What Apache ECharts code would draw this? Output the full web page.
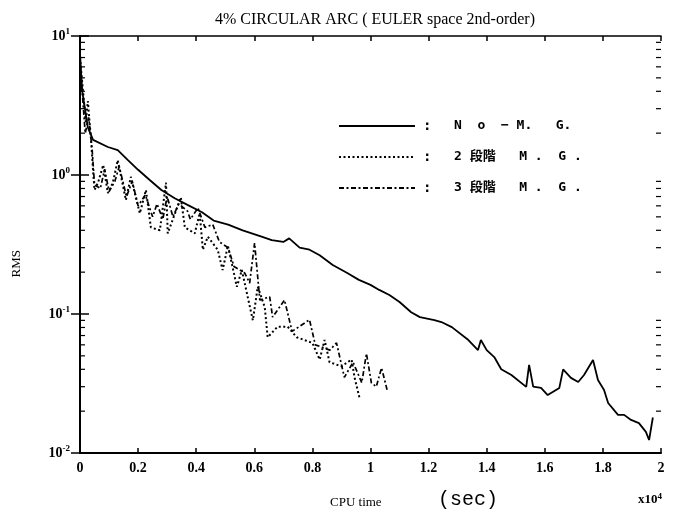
<!DOCTYPE html>
<html>
<head>
<meta charset="utf-8">
<script src="https://cdn.jsdelivr.net/npm/echarts@6/dist/echarts.min.js"></script>
<style>
html, body { margin: 0; padding: 0; background: #fff; }
#chart { width: 684px; height: 521px; }
</style>
</head>
<body>
<div id="chart"></div>
<script>
// CPU time (x10^4 sec) / RMS pairs
var noMG = [
	[0, 7.5], [0.007, 4.1], [0.027, 2.2], [0.045, 1.79], [0.096, 1.59], [0.13, 1.51],
	[0.165, 1.28], [0.2, 1.09], [0.24, 0.92], [0.28, 0.78], [0.326, 0.68], [0.37, 0.61],
	[0.42, 0.54], [0.46, 0.47], [0.51, 0.44], [0.56, 0.40], [0.625, 0.36], [0.66, 0.34],
	[0.70, 0.33], [0.72, 0.35], [0.756, 0.30], [0.79, 0.29], [0.825, 0.265], [0.87, 0.225],
	[0.92, 0.197], [0.96, 0.176], [1.0, 0.162], [1.03, 0.149], [1.065, 0.137], [1.10, 0.122],
	[1.14, 0.103], [1.17, 0.095], [1.22, 0.0905], [1.244, 0.0875], [1.28, 0.0805], [1.337, 0.065],
	[1.37, 0.055], [1.38, 0.065], [1.40, 0.055], [1.426, 0.049], [1.45, 0.040], [1.485, 0.0364],
	[1.536, 0.0299], [1.546, 0.043], [1.56, 0.030], [1.587, 0.0294], [1.61, 0.0261], [1.65, 0.0294],
	[1.663, 0.040], [1.69, 0.0347], [1.715, 0.0324], [1.735, 0.0364], [1.766, 0.0467], [1.783, 0.0335],
	[1.804, 0.0284], [1.818, 0.0229], [1.852, 0.0188], [1.873, 0.0188], [1.897, 0.0173], [1.924, 0.0164],
	[1.948, 0.0142], [1.959, 0.0124], [1.972, 0.018]
];
var mg2 = [
	[0, 7], [0.02, 2.4], [0.027, 3.4], [0.038, 1.8], [0.046, 1.0], [0.05, 0.78], [0.062, 0.88],
	[0.08, 1.18], [0.096, 0.74], [0.113, 0.88], [0.13, 1.28], [0.158, 0.66], [0.175, 0.97],
	[0.206, 0.53], [0.227, 0.78], [0.244, 0.42], [0.275, 0.40], [0.296, 0.88], [0.302, 0.38],
	[0.347, 0.69], [0.361, 0.42], [0.395, 0.38], [0.412, 0.53], [0.423, 0.29], [0.44, 0.36],
	[0.474, 0.29], [0.491, 0.207], [0.509, 0.31], [0.54, 0.157], [0.557, 0.207], [0.595, 0.09],
	[0.612, 0.157], [0.636, 0.112], [0.646, 0.068], [0.68, 0.081], [0.715, 0.081], [0.746, 0.068],
	[0.80, 0.062], [0.825, 0.047], [0.842, 0.065], [0.859, 0.045], [0.90, 0.042], [0.935, 0.047],
	[0.945, 0.035], [0.962, 0.025]
];
var mg3 = [
	[0, 6.5], [0.018, 2.0], [0.03, 2.6], [0.042, 1.5], [0.05, 0.85], [0.07, 0.8], [0.085, 1.1],
	[0.1, 0.76], [0.12, 0.9], [0.135, 1.15], [0.16, 0.7], [0.18, 0.9], [0.2, 0.6], [0.225, 0.72],
	[0.25, 0.5], [0.265, 0.62], [0.285, 0.48], [0.3, 0.7], [0.32, 0.5], [0.34, 0.62], [0.37, 0.55],
	[0.38, 0.48], [0.406, 0.58], [0.43, 0.42], [0.457, 0.44], [0.48, 0.33], [0.51, 0.30], [0.53, 0.22],
	[0.567, 0.197], [0.584, 0.167], [0.601, 0.324], [0.619, 0.126], [0.653, 0.133], [0.663, 0.095],
	[0.704, 0.126], [0.73, 0.075], [0.79, 0.091], [0.81, 0.06], [0.86, 0.055], [0.883, 0.062],
	[0.91, 0.035], [0.94, 0.045], [0.97, 0.032], [0.986, 0.052], [1.003, 0.032], [1.02, 0.030],
	[1.038, 0.041], [1.058, 0.028]
];
var seriesNames = ['N  o  − M.   G.', '2 段階   M .  G .', '3 段階   M .  G .'];
var minorTickMul = [2, 3, 4, 5, 6, 7, 8, 9];
var decades = [0.01, 0.1, 1];

var serif = '"Liberation Serif", "DejaVu Serif", serif';
var legendFont = '"DejaVu Sans Mono", "Noto Sans CJK JP", monospace';
var minorTicks = [];
decades.forEach(function(d) {
	minorTickMul.forEach(function(m) { minorTicks.push([0, d * m]); });
});

var chart = echarts.init(document.getElementById('chart'));

var lineBase = { type: 'line', showSymbol: false, symbol: 'none', animation: false, z: 3 };

chart.setOption({
	backgroundColor: '#fff',
	animation: false,
	title: {
		text: '4% CIRCULAR ARC ( EULER space 2nd-order)',
		left: 370, top: 7, textAlign: 'center',
		textStyle: { fontFamily: serif, fontSize: 16, fontWeight: 'normal', color: '#000' }
	},
	grid: { left: 80, right: 23, top: 36, bottom: 68 },
	legend: {
		orient: 'vertical', left: 333, top: 114,
		itemWidth: 76, itemHeight: 14, itemGap: 17,
		data: seriesNames,
		itemStyle: { opacity: 0 },
		formatter: function(name) { return '{c|:}{t|' + name + '}'; },
		textStyle: {
			color: '#000',
			rich: {
				c: { width: 31, padding: [0, 0, 0, 3], fontWeight: 'bold', fontSize: 14, fontFamily: legendFont },
				t: { fontWeight: 'bold', fontSize: 13, fontFamily: legendFont }
			}
		}
	},
	xAxis: [{
		type: 'value', min: 0, max: 2, interval: 0.2,
		axisLine: { lineStyle: { color: '#000', width: 2 } },
		axisTick: { inside: true, length: 5, lineStyle: { color: '#000', width: 1.5 } },
		axisLabel: { color: '#000', fontFamily: serif, fontWeight: 'bold', fontSize: 14, margin: 8 },
		splitLine: { show: false }
	}, {
		type: 'value', min: 0, max: 2, interval: 0.2, position: 'top',
		axisLine: { lineStyle: { color: '#000', width: 1.5 } },
		axisTick: { inside: true, length: 5, lineStyle: { color: '#000', width: 1.5 } },
		axisLabel: { show: false },
		splitLine: { show: false }
	}],
	yAxis: [{
		type: 'log', min: 0.01, max: 10, logBase: 10,
		axisLine: { lineStyle: { color: '#000', width: 2 } },
		axisTick: { inside: true, length: 9, lineStyle: { color: '#000', width: 1.5 } },
		axisLabel: {
			color: '#000', margin: 10,
			formatter: function(v) {
				var e = Math.round(Math.log(v) / Math.LN10);
				return '{b|10}{s|' + (e < 0 ? '-' + (-e) : e) + '}';
			},
			rich: {
				b: { fontFamily: serif, fontSize: 14, fontWeight: 'bold', color: '#000' },
				s: { fontFamily: serif, fontSize: 9, fontWeight: 'bold', color: '#000', verticalAlign: 'top', padding: [0, 0, 8, 0] }
			}
		},
		splitLine: { show: false }
	}, {
		type: 'log', min: 0.01, max: 10, logBase: 10, position: 'right',
		axisLine: { lineStyle: { color: '#000', width: 1.5 } },
		axisTick: { inside: true, length: 9, lineStyle: { color: '#000', width: 1.5 } },
		axisLabel: { show: false },
		splitLine: { show: false }
	}],
	series: [
		Object.assign({}, lineBase, {
			name: seriesNames[0], data: noMG,
			lineStyle: { color: '#000', width: 1.8, type: 'solid' }, itemStyle: { color: '#000' }
		}),
		Object.assign({}, lineBase, {
			name: seriesNames[1], data: mg2,
			lineStyle: { color: '#000', width: 2, type: [2, 2.5] }, itemStyle: { color: '#000' }
		}),
		Object.assign({}, lineBase, {
			name: seriesNames[2], data: mg3,
			lineStyle: { color: '#000', width: 1.7, type: [5, 2.5, 2, 2.5] }, itemStyle: { color: '#000' }
		}),
		{
			// minor ticks on both log axes
			type: 'custom', silent: true, clip: false, z: 5,
			data: minorTicks,
			renderItem: function(params, api) {
				var l = api.coord([0, api.value(1)]);
				var r = api.coord([2, api.value(1)]);
				return {
					type: 'group',
					children: [
						{ type: 'line', shape: { x1: l[0], y1: l[1], x2: l[0] + 5, y2: l[1] }, style: { stroke: '#000', lineWidth: 1.2 } },
						{ type: 'line', shape: { x1: r[0], y1: r[1], x2: r[0] - 5, y2: r[1] }, style: { stroke: '#000', lineWidth: 1.2 } }
					]
				};
			}
		}
	],
	graphic: [
		{ type: 'text', left: 10, top: 250, rotation: Math.PI / 2,
		  style: { text: 'RMS', font: '13px ' + serif, fill: '#000' } },
		{ type: 'text', left: 330, top: 496,
		  style: { text: 'CPU time', font: '13px ' + serif, fill: '#000' } },
		{ type: 'text', left: 438, top: 490,
		  style: { text: '(sec)', font: '20px "Liberation Mono", "DejaVu Sans Mono", monospace', fill: '#000' } },
		{ type: 'text', left: 638, top: 492,
		  style: { text: '{a|x10}{s|4}', rich: {
			  a: { fontFamily: serif, fontSize: 13, fontWeight: 'bold', fill: '#000' },
			  s: { fontFamily: serif, fontSize: 9, fontWeight: 'bold', fill: '#000', verticalAlign: 'top', padding: [0, 0, 6, 0] }
		  } } }
	]
});
</script>
</body>
</html>
